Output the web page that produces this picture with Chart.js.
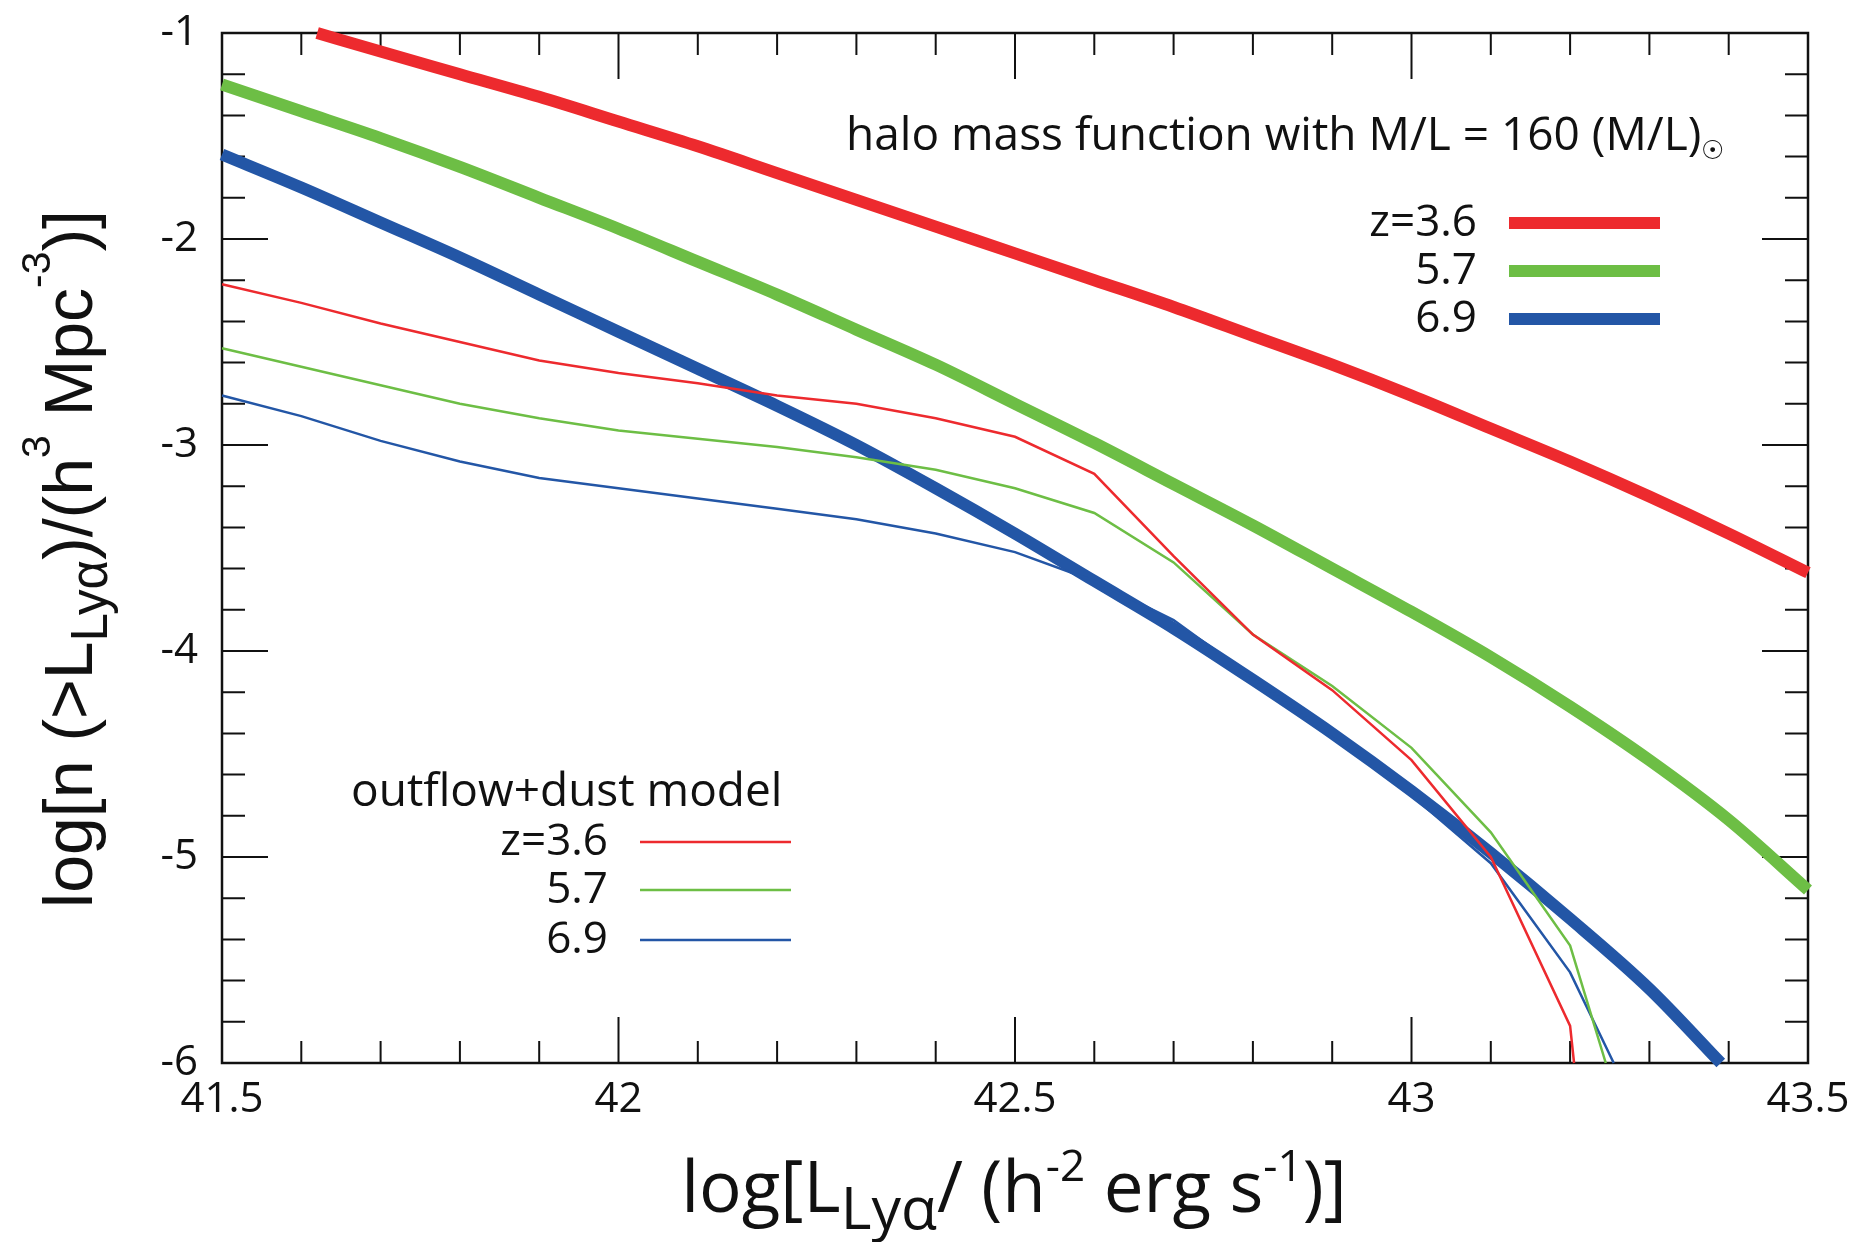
<!DOCTYPE html>
<html>
<head>
<meta charset="utf-8">
<title>Ly-alpha luminosity function</title>
<script src="https://cdn.jsdelivr.net/npm/chart.js@4.4.1/dist/chart.umd.min.js"></script>
<style>
  html, body { margin: 0; padding: 0; background: #fff; }
  #wrap { width: 1859px; height: 1242px; }
</style>
</head>
<body>
<div id="wrap"><canvas id="chart" width="1859" height="1242"></canvas></div>
<script>
// halo mass function with M/L = 160, thick curves
const haloZ36X = [41.62, 41.7, 41.8, 41.9, 42.0, 42.1, 42.2, 42.3, 42.4, 42.5, 42.6, 42.7, 42.8, 42.9, 43.0, 43.1, 43.2, 43.3, 43.4, 43.5];
const haloZ36Y = [-1.00, -1.09, -1.20, -1.31, -1.43, -1.55, -1.68, -1.81, -1.94, -2.07, -2.20, -2.33, -2.47, -2.61, -2.76, -2.92, -3.08, -3.25, -3.43, -3.62];
const haloZ57X = [41.5, 41.6, 41.7, 41.8, 41.9, 42.0, 42.1, 42.2, 42.3, 42.4, 42.5, 42.6, 42.7, 42.8, 42.9, 43.0, 43.1, 43.2, 43.3, 43.4, 43.5];
const haloZ57Y = [-1.25, -1.38, -1.51, -1.65, -1.80, -1.95, -2.11, -2.27, -2.44, -2.61, -2.80, -2.99, -3.19, -3.39, -3.60, -3.81, -4.03, -4.27, -4.53, -4.82, -5.16];
const haloZ69X = [41.5, 41.6, 41.7, 41.8, 41.9, 42.0, 42.1, 42.2, 42.3, 42.4, 42.5, 42.6, 42.7, 42.8, 42.9, 43.0, 43.1, 43.2, 43.3, 43.39];
const haloZ69Y = [-1.59, -1.75, -1.92, -2.09, -2.27, -2.45, -2.63, -2.81, -3.00, -3.21, -3.43, -3.66, -3.89, -4.14, -4.40, -4.68, -4.98, -5.30, -5.64, -6.00];

// outflow+dust model, thin curves
const dustZ36X = [41.5, 41.6, 41.7, 41.8, 41.9, 42.0, 42.1, 42.2, 42.3, 42.4, 42.5, 42.6, 42.7, 42.8, 42.9, 43.0, 43.1, 43.2, 43.205];
const dustZ36Y = [-2.22, -2.31, -2.41, -2.50, -2.59, -2.65, -2.70, -2.76, -2.80, -2.87, -2.96, -3.14, -3.54, -3.92, -4.19, -4.53, -5.00, -5.82, -6.00];
const dustZ57X = [41.5, 41.6, 41.7, 41.8, 41.9, 42.0, 42.1, 42.2, 42.3, 42.4, 42.5, 42.6, 42.7, 42.8, 42.9, 43.0, 43.1, 43.2, 43.245];
const dustZ57Y = [-2.53, -2.62, -2.71, -2.80, -2.87, -2.93, -2.97, -3.01, -3.06, -3.12, -3.21, -3.33, -3.57, -3.92, -4.17, -4.47, -4.88, -5.43, -6.00];
const dustZ69X = [41.5, 41.6, 41.7, 41.8, 41.9, 42.0, 42.1, 42.2, 42.3, 42.4, 42.5, 42.6, 42.7, 42.8, 42.9, 43.0, 43.1, 43.2, 43.255];
const dustZ69Y = [-2.76, -2.86, -2.98, -3.08, -3.16, -3.21, -3.26, -3.31, -3.36, -3.43, -3.52, -3.66, -3.85, -4.13, -4.42, -4.70, -5.03, -5.56, -6.00];

// axes
const xRange = [41.5, 43.5];
const yRange = [-6, -1];
const redshiftLabels = ['z=3.6', '5.7', '6.9'];

const RED = '#ed2a2e';
const GREEN = '#6dbe45';
const BLUE = '#2356a6';
const colors = [RED, GREEN, BLUE];

function pts(xs, ys) {
    return xs.map((x, i) => ({ x: x, y: ys[i] }));
}

function thick(data, color) {
    return { data: data, borderColor: color, borderWidth: 12, pointRadius: 0, cubicInterpolationMode: 'monotone', clip: false, order: 2, borderCapStyle: 'butt' };
}
function thin(data, color) {
    return { data: data, borderColor: color, borderWidth: 2.5, pointRadius: 0, tension: 0, clip: false, order: 1 };
}

// draw a run of text pieces; each piece is [text, sizeScale, baselineShift(em)]
function drawRich(ctx, parts, x, y, align, family, size) {
    let total = 0;
    parts.forEach(p => {
        ctx.font = (size * p[1]) + 'px ' + family;
        total += ctx.measureText(p[0]).width;
    });
    let cx = x;
    if (align === 'center') cx = x - total / 2;
    if (align === 'right') cx = x - total;
    ctx.textAlign = 'left';
    parts.forEach(p => {
        ctx.font = (size * p[1]) + 'px ' + family;
        ctx.fillText(p[0], cx, y + p[2] * size);
        cx += ctx.measureText(p[0]).width;
    });
}

const frameAndText = {
    id: 'frameAndText',
    beforeDatasetsDraw(chart) {
        const ctx = chart.ctx;
        const a = chart.chartArea;
        const xs = chart.scales.x;
        const ys = chart.scales.y;
        ctx.save();
        ctx.strokeStyle = '#111';
        ctx.lineWidth = 2;
        ctx.beginPath();
        // x ticks every 0.1, long every 0.5, on bottom and top
        for (let i = 0; i <= 20; i++) {
            const px = xs.getPixelForValue(xRange[0] + i * 0.1);
            const len = i % 5 === 0 ? 46 : 22;
            ctx.moveTo(px, a.bottom); ctx.lineTo(px, a.bottom - len);
            ctx.moveTo(px, a.top); ctx.lineTo(px, a.top + len);
        }
        // y ticks every 0.2, long every 1, on left and right
        for (let i = 0; i <= 25; i++) {
            const py = ys.getPixelForValue(yRange[0] + i * 0.2);
            const len = i % 5 === 0 ? 46 : 23;
            ctx.moveTo(a.left, py); ctx.lineTo(a.left + len, py);
            ctx.moveTo(a.right, py); ctx.lineTo(a.right - len, py);
        }
        ctx.stroke();
        ctx.lineWidth = 2.5;
        ctx.strokeRect(a.left, a.top, a.right - a.left, a.bottom - a.top);
        ctx.restore();
    },
    afterDraw(chart) {
        const ctx = chart.ctx;
        ctx.save();
        ctx.fillStyle = '#111';
        ctx.textBaseline = 'alphabetic';

        // axis titles
        drawRich(ctx, [
            ['log[L', 1, 0], ['Lyα', 0.83, 0.24], ['/ (h', 1, 0], ['-2', 0.62, -0.44],
            [' erg s', 1, 0], ['-1', 0.62, -0.44], [')]', 1, 0]
        ], 1014, 1212, 'center', '"Open Sans"', 71);

        ctx.save();
        ctx.translate(92, 559);
        ctx.rotate(-Math.PI / 2);
        drawRich(ctx, [
            ['log[n (>L', 1, 0], ['Lyα', 0.75, 0.22], [')/(h', 1, 0], ['3', 0.6, -0.62],
            [' Mpc', 1, 0], ['-3', 0.6, -0.62], [')]', 1, 0]
        ], 0, 0, 'center', '"Liberation Sans"', 68);
        ctx.restore();

        // halo mass function legend
        drawRich(ctx, [['halo mass function with M/L = 160 (M/L)', 1, 0], ['☉', 0.56, 0.2]],
            846, 150, 'left', '"Open Sans"', 46);
        const rows1 = [223, 271, 319];
        rows1.forEach((yy, i) => {
            ctx.font = '44px "Open Sans"';
            ctx.textAlign = 'right';
            ctx.textBaseline = 'middle';
            ctx.fillText(redshiftLabels[i], 1477, yy);
            ctx.strokeStyle = colors[i];
            ctx.lineWidth = 12;
            ctx.beginPath(); ctx.moveTo(1509, yy); ctx.lineTo(1660, yy); ctx.stroke();
        });

        // outflow+dust legend
        ctx.textBaseline = 'alphabetic';
        drawRich(ctx, [['outflow+dust model', 1, 0]], 351, 806, 'left', '"Open Sans"', 46);
        const rows2 = [842, 890, 940];
        rows2.forEach((yy, i) => {
            ctx.font = '44px "Open Sans"';
            ctx.textAlign = 'right';
            ctx.textBaseline = 'middle';
            ctx.fillText(redshiftLabels[i], 608, yy);
            ctx.strokeStyle = colors[i];
            ctx.lineWidth = 2.5;
            ctx.beginPath(); ctx.moveTo(640, yy); ctx.lineTo(791, yy); ctx.stroke();
        });
        ctx.restore();
    }
};

new Chart(document.getElementById('chart'), {
    type: 'line',
    data: {
        datasets: [
            thick(pts(haloZ36X, haloZ36Y), RED),
            thick(pts(haloZ57X, haloZ57Y), GREEN),
            thick(pts(haloZ69X, haloZ69Y), BLUE),
            thin(pts(dustZ36X, dustZ36Y), RED),
            thin(pts(dustZ57X, dustZ57Y), GREEN),
            thin(pts(dustZ69X, dustZ69Y), BLUE)
        ]
    },
    options: {
        responsive: false,
        animation: false,
        events: [],
        layout: { padding: { top: 33, right: 51, left: 0, bottom: 0 } },
        plugins: { legend: { display: false }, tooltip: { enabled: false } },
        scales: {
            x: {
                type: 'linear',
                min: xRange[0], max: xRange[1],
                grid: { display: false, drawTicks: false },
                border: { display: false },
                ticks: {
                    stepSize: 0.5, padding: 12, maxRotation: 0, color: '#111',
                    font: { family: '"Open Sans"', size: 42 },
                    callback: v => String(Number(v))
                },
                afterFit: s => { s.height = 179; s.paddingLeft = 0; s.paddingRight = 0; }
            },
            y: {
                type: 'linear',
                min: yRange[0], max: yRange[1],
                grid: { display: false, drawTicks: false },
                border: { display: false },
                ticks: { stepSize: 1, padding: 24, color: '#111', font: { family: '"Open Sans"', size: 42 } },
                afterFit: s => { s.width = 222; s.paddingTop = 0; s.paddingBottom = 0; }
            }
        }
    },
    plugins: [frameAndText]
});
</script>
</body>
</html>
